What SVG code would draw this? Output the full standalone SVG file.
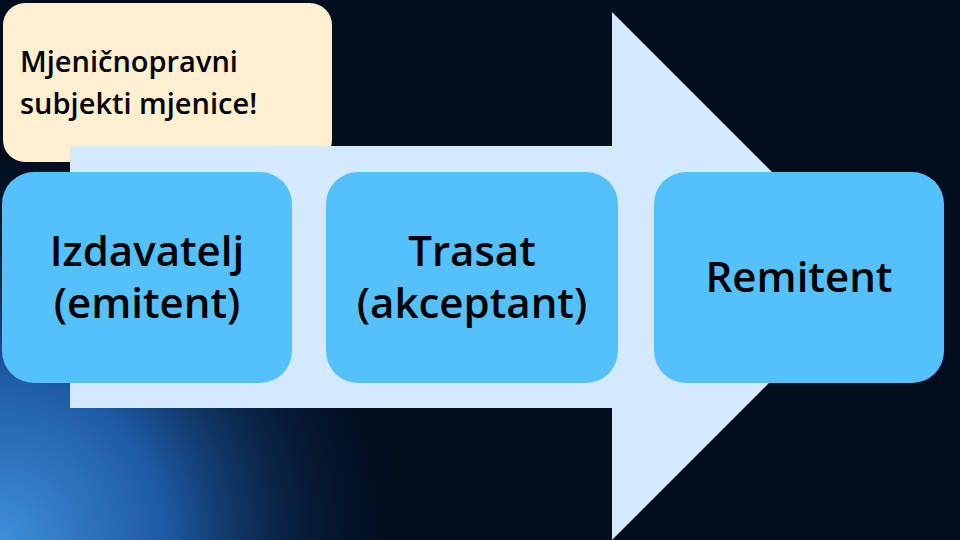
<svg xmlns="http://www.w3.org/2000/svg" width="960" height="540" viewBox="0 0 960 540">
<defs>
<radialGradient id="glow" cx="0" cy="540" r="420" gradientUnits="userSpaceOnUse">
<stop offset="0" stop-color="#3f8fd8"/>
<stop offset="0.4" stop-color="#1d5aa3"/>
<stop offset="1" stop-color="#020d1e" stop-opacity="0"/>
</radialGradient>
<style>
.box{fill:#55c1fb}
.t{font-family:"Open Sans",sans-serif;font-weight:600;fill:#000;text-anchor:middle;font-size:42px}
.n{font-family:"Open Sans",sans-serif;font-weight:600;fill:#000;font-size:29px}
</style>
</defs>
<rect width="960" height="540" fill="#020d1e"/>
<rect width="960" height="540" fill="url(#glow)"/>
<g id="note">
<rect x="3" y="3" width="329" height="159" rx="22" fill="#fdefd0"/>
<text class="n" x="20" y="72">Mjeničnopravni</text>
<text class="n" x="20" y="114">subjekti mjenice!</text>
</g>
<g id="connectors">
<polygon points="70,146 612,146 612,12 876,276 612,540 612,408 70,408" fill="#d3e9fd"/>
</g>
<g id="n1"><rect class="box" x="2" y="172" width="290" height="211" rx="32"/>
<text class="t" x="147" y="266">Izdavatelj</text><text class="t" x="147" y="318">(emitent)</text></g>
<g id="n2"><rect class="box" x="326" y="172" width="292" height="211" rx="32"/>
<text class="t" x="472" y="266">Trasat</text><text class="t" x="472" y="318">(akceptant)</text></g>
<g id="n3"><rect class="box" x="654" y="172" width="290" height="211" rx="32"/>
<text class="t" x="799" y="292">Remitent</text></g>
</svg>
